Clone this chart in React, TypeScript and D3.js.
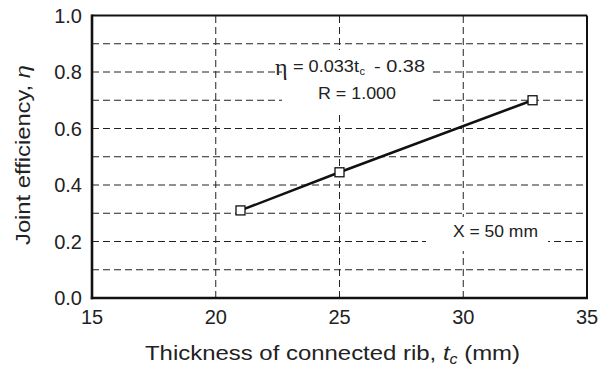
import React from "react";
import * as d3 from "d3";

// thickness of connected rib (mm) vs joint efficiency
const thickness = [21, 25, 32.8];
const efficiency = [0.31, 0.445, 0.7];

const xTicks = [15, 20, 25, 30, 35];
const yTicks = [0, 0.2, 0.4, 0.6, 0.8, 1.0];
const yGrid = [0.1, 0.2, 0.3, 0.4, 0.5, 0.6, 0.7, 0.8, 0.9];
const xGrid = [20, 25, 30];

const W = 613;
const H = 372;
const margin = { top: 15.5, right: 26, bottom: 74, left: 92 };
const font = "'Liberation Sans', Arial, sans-serif";

export default function App() {
    const x = d3.scaleLinear().domain([15, 35]).range([margin.left, W - margin.right]);
    const y = d3.scaleLinear().domain([0, 1]).range([H - margin.bottom, margin.top]);

    const pts = thickness.map((t, i) => ({ t, e: efficiency[i] }));
    const line = d3.line<{ t: number; e: number }>()
        .x(d => x(d.t))
        .y(d => y(d.e));

    const x0 = x(15), x1 = x(35), y0 = y(0), y1 = y(1);
    const dash = "7,4";
    const sp = "spacingAndGlyphs";

    return (
        <svg width={W} height={H} style={{ position: "absolute", left: 0, top: 0, background: "#fff" }}>
            {/* grid */}
            <g stroke="#222" strokeWidth={1} strokeDasharray={dash}>
                {yGrid.map(v => (
                    <line key={"h" + v} x1={x0} x2={x1} y1={y(v)} y2={y(v)} />
                ))}
                {xGrid.map(v => (
                    <line key={"v" + v} x1={x(v)} x2={x(v)} y1={y0} y2={y1} />
                ))}
            </g>

            {/* white boxes behind the notes */}
            <rect x={282} y={50} width={150} height={63} fill="#fff" />
            <rect x={426} y={217} width={122} height={34} fill="#fff" />

            {/* frame */}
            <line x1={x0} x2={x1} y1={y1} y2={y1} stroke="#111" strokeWidth={2} />
            <line x1={x1} x2={x1} y1={y1} y2={y0} stroke="#111" strokeWidth={2} />
            <line x1={x0} x2={x0} y1={y1 - 1} y2={y0 + 1.2} stroke="#111" strokeWidth={2.6} />
            <line x1={x0 - 1.2} x2={x1 + 1} y1={y0} y2={y0} stroke="#111" strokeWidth={2.6} />

            {/* fit line + markers */}
            <path d={line(pts) || ""} fill="none" stroke="#111" strokeWidth={2.5} />
            {pts.map((d, i) => (
                <rect key={i} x={x(d.t) - 4.5} y={y(d.e) - 4.5} width={9} height={9}
                    fill="#fff" stroke="#111" strokeWidth={1.3} />
            ))}

            {/* tick labels */}
            <g fontFamily={font} fontSize={20} fill="#222">
                {yTicks.map(v => (
                    <text key={"yt" + v} x={x0 - 10} y={y(v) + 7} textAnchor="end">{v.toFixed(1)}</text>
                ))}
                {xTicks.map(v => (
                    <text key={"xt" + v} x={x(v)} y={y0 + 26} textAnchor="middle">{v}</text>
                ))}
            </g>

            {/* axis titles */}
            <text x={145} y={360} fontFamily={font} fontSize={21} fill="#222" textLength={375} lengthAdjust={sp}>
                Thickness of connected rib,{"  "}
                <tspan fontStyle="italic">t</tspan>
                <tspan fontStyle="italic" fontSize={14} dy={4}>c</tspan>
                <tspan dy={-4}> (mm)</tspan>
            </text>
            <text transform="translate(30,155) rotate(-90)" textAnchor="middle"
                fontFamily={font} fontSize={21} fill="#222" textLength={180} lengthAdjust={sp}>
                Joint efficiency, <tspan fontStyle="italic">η</tspan>
            </text>

            {/* annotations */}
            <text x={275} y={75} fontFamily="'Liberation Serif', 'DejaVu Serif', serif" fontSize={24} fill="#222">η</text>
            <g fontFamily={font} fontSize={16.5} fill="#222">
                <text x={293} y={72} textLength={66} lengthAdjust={sp}>= 0.033t</text>
                <text x={359.5} y={75} fontSize={11}>c</text>
                <text x={374} y={72} textLength={51} lengthAdjust={sp}>- 0.38</text>
                <text x={318} y={99} textLength={78} lengthAdjust={sp}>R = 1.000</text>
                <text x={453} y={237} textLength={85} lengthAdjust={sp}>X = 50 mm</text>
            </g>
        </svg>
    );
}
